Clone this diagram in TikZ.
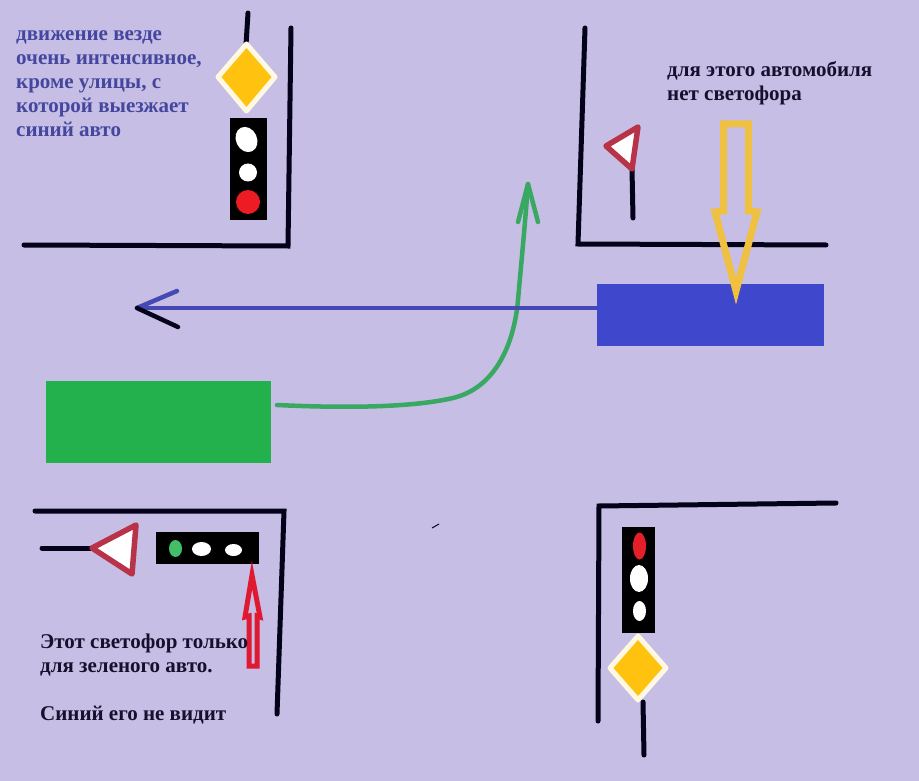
\documentclass[tikz,border=0pt]{standalone}
\usepackage{fontspec}
\setmainfont{Liberation Serif}
\definecolor{bgc}{HTML}{C6BEE4}
\definecolor{roadk}{HTML}{04021A}
\definecolor{carblue}{HTML}{3F48CC}
\definecolor{lineblue}{HTML}{4549B4}
\definecolor{cargreen}{HTML}{22B14C}
\definecolor{linegreen}{HTML}{38A862}
\definecolor{signred}{HTML}{B83248}
\definecolor{lampred}{HTML}{ED1C24}
\definecolor{signyel}{HTML}{FFC20E}
\definecolor{arrowyel}{HTML}{F0C040}
\definecolor{txtblue}{HTML}{45479F}
\definecolor{txtdark}{HTML}{14102E}
\definecolor{arrowred}{HTML}{E01830}
\tikzset{
 road/.style={draw=roadk,line width=5pt,line cap=round,line join=miter},
 post/.style={draw=roadk,line width=5pt,line cap=round},
 housing/.style={fill=black,draw=none,inner sep=0pt},
 lamp/.style={draw=none,fill=white},
 prio/.style={draw=white!88!signyel,fill=signyel,line width=5pt,line join=round},
 yield/.style={draw=signred,fill=white,line width=5.5pt,line join=round},
 car/.style={draw=none,inner sep=0pt},
 note/.style={font=\fontsize{21}{24}\selectfont\bfseries,align=left,anchor=north west,inner sep=0pt},
}
\begin{document}
\begin{tikzpicture}[x=1pt,y=-1pt]
\path[fill=bgc] (0,0) rectangle (919,781);
\useasboundingbox (0,0) rectangle (919,781);
% roads
\draw[road] (24,245) -- (288,246) -- (291,28);
\draw[road] (585,28) -- (578,244) -- (826,245);
\draw[road] (35,511) -- (284,511) -- (277,714);
\draw[road] (598,721) -- (599,506) -- (836,503);
% cars
\node[car,fill=carblue,minimum width=227pt,minimum height=62pt] (bluecar) at (710.5,315) {};
\node[car,fill=cargreen,minimum width=225pt,minimum height=82pt] (greencar) at (158.5,422) {};
% blue arrow
\coordinate (bluetip) at (137,308);
\coordinate (bluea) at (177,291);
\coordinate (blueb) at (178,327);
\draw[draw=linegreen,line width=4.5pt,line cap=round] (277,405) .. controls (340,408) and (410,408) .. (453,398) .. controls (495,388) and (514,345) .. (518,300) .. controls (521,266) and (525,225) .. (528,184);
\draw[draw=lineblue,line width=4.5pt] (bluecar.west |- 0,308) -- (bluetip);
\draw[draw=lineblue,line width=4.5pt,line cap=round] (bluetip) -- (bluea);
\draw[draw=roadk,line width=4.5pt,line cap=round] (bluetip) -- (blueb);
% green arrow head
\draw[draw=linegreen,line width=4.5pt,line cap=round,line join=round] (518,222) -- (528,184) -- (538,222);
% sign top-left
\draw[post] (248,13) -- (246,45);
\draw[prio] (246.5,44) -- (275,77) -- (246.5,111) -- (218,77) -- cycle;
\node[housing,minimum width=37pt,minimum height=102pt] (lighta) at (248.5,169) {};
\draw[lamp,rotate around={25:(246.5,139.5)}] (246.5,139.5) ellipse (10.5pt and 13pt);
\draw[lamp] (248,172.5) circle (9pt);
\draw[lamp,fill=lampred] (248,202) circle (12pt);
% yield top-right
\coordinate (ya) at (606,146);
\coordinate (yb) at (638,127);
\coordinate (yc) at (632,169);
\draw[post] (yc) -- (633,218);
\draw[yield] (ya) -- (yb) -- (yc) -- cycle;
% note and yellow arrow
\node[note,text=txtdark] (noteb) at (667,61) {для этого автомобиля\\нет светофора};
\draw[draw=arrowyel,line width=7pt,line join=miter,fill=none] (723.5,124) -- (748.5,124) -- (748.5,211) -- (757,212) -- (736,291) -- (715,212) -- (723.5,211) -- cycle;
% bottom-left light
\draw[post] (42,548) -- (92,548);
\draw[yield] (92,548) -- (136,525) -- (132,574) -- cycle;
\node[housing,minimum width=103pt,minimum height=32pt] (lightb) at (207.5,548) {};
\draw[lamp,fill=cargreen!85!white] (175.5,548.5) ellipse (6.5pt and 8.5pt);
\draw[lamp] (201.5,549) ellipse (9.5pt and 7pt);
\draw[lamp] (233.5,550) ellipse (8.5pt and 6pt);
% red arrow
\draw[draw=arrowred,line width=5pt,line join=miter,fill=none] (249,666) -- (257,666) -- (257,616) -- (260,617) -- (252,575) -- (245,617) -- (249,616) -- cycle;
% bottom-right
\node[housing,minimum width=33pt,minimum height=106pt] (lightc) at (638.5,580) {};
\draw[lamp,fill=lampred!85!signred] (639.5,546) ellipse (6.5pt and 13.5pt);
\draw[lamp] (639,578.5) ellipse (9pt and 13.5pt);
\draw[lamp] (639.5,611) ellipse (6.5pt and 10pt);
\draw[prio] (638,636) -- (666,668) -- (638,700) -- (610,668) -- cycle;
\draw[post] (643,702) -- (644,755);
% tiny mark
\draw[draw=roadk,line width=1pt] (432,528) -- (439,524);
% texts
\node[note,text=txtblue] (notea) at (16,30) {движение везде\\очень интенсивное,\\кроме улицы, с\\которой выезжает\\синий авто};
\node[note,text=txtdark] (notec) at (40,633.5) {Этот светофор только\\для зеленого авто.\\[24pt]Синий его не видит};
\end{tikzpicture}
\end{document}
